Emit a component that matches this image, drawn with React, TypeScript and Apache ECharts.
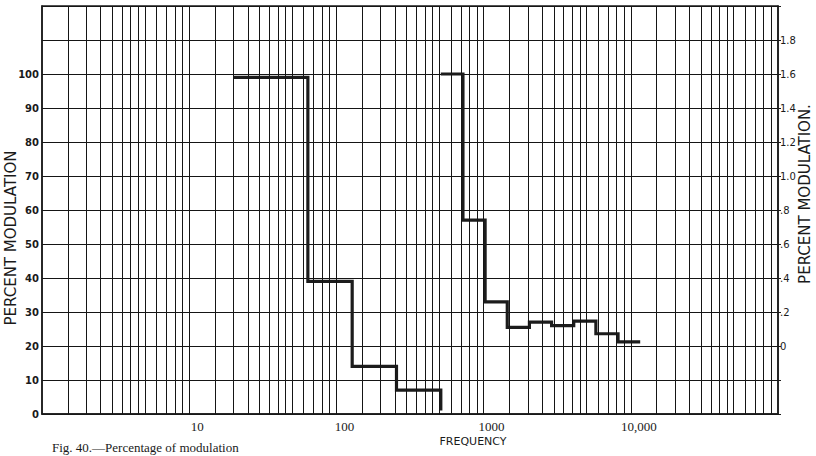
import React, { useEffect, useRef } from "react";
import * as echarts from "echarts";

// Low-frequency curve (left scale, percent modulation)
const FREQ_A = [20, 64, 128, 256, 512];
const MOD_A = [99, 39, 14, 7, 1];

// High-frequency curve (right scale plotted on the same grid)
const FREQ_B = [512, 724, 1024, 1448, 2048, 2896, 4096, 5793, 8192, 11585];
const MOD_B = [100, 57, 33, 25.5, 27, 26, 27.3, 23.6, 21.2, 21.2];

const X_LABELS = [10, 100, 1000, 10000];
const X_LABEL_TEXT = ["10", "100", "1000", "10,000"];
const DECADES = [1, 10, 100, 1000, 10000, 100000];
const GRID_MULT = [1, 1.5, 2, 2.5, 3, 3.5, 4, 4.5, 5, 6, 7, 8, 9];

export default function App() {
  const ref = useRef<HTMLDivElement>(null);
  useEffect(() => {
    if (!ref.current) return;
    const chart = echarts.init(ref.current, null, { renderer: "svg" });
    const gridVals: number[] = [];
    DECADES.forEach((d) => {
      GRID_MULT.forEach((m) => {
        const v = d * m;
        if (v > 1 && v < 100000) gridVals.push(v);
      });
    });
    const ink = "#1a1a1a";
    chart.setOption({
      animation: false,
      backgroundColor: "#fff",
      grid: {
        left: 42,
        right: 38,
        top: 6,
        bottom: 42,
        show: true,
        borderColor: ink,
        borderWidth: 1.5,
      },
      xAxis: {
        type: "log",
        logBase: 10,
        min: 1,
        max: 100000,
        axisLine: { show: true, lineStyle: { color: ink, width: 1.5 } },
        axisTick: { show: false },
        splitLine: { show: false },
        axisLabel: {
          margin: 6,
          padding: [0, 0, 0, 16],
          fontFamily: "Liberation Serif",
          fontSize: 13,
          color: ink,
          formatter: (v: number) => {
            const i = X_LABELS.findIndex((x) => Math.abs(x - v) / x < 1e-6);
            return i >= 0 ? X_LABEL_TEXT[i] : "";
          },
        },
      },
      yAxis: [
        {
          type: "value",
          min: 0,
          max: 120,
          interval: 10,
          axisLine: { show: true, lineStyle: { color: ink, width: 1.5 } },
          axisTick: { show: false },
          splitLine: { show: true, lineStyle: { color: "#151515", width: 1 } },
          axisLabel: {
            margin: 3,
            fontFamily: "DejaVu Sans",
            fontWeight: "bold",
            fontSize: 10,
            color: ink,
            formatter: (v: number) => (v <= 100 ? String(v) : ""),
          },
        },
        {
          type: "value",
          position: "right",
          min: -0.4,
          max: 2.0,
          interval: 0.2,
          axisLine: { show: true, lineStyle: { color: ink, width: 1.5 } },
          axisTick: { show: true, length: 3, lineStyle: { color: ink } },
          splitLine: { show: false },
          axisLabel: {
            margin: 2,
            fontFamily: "DejaVu Sans",
            fontSize: 10,
            color: ink,
            formatter: (v: number) => {
              const r = Math.round(v * 10) / 10;
              if (r < 0 || r > 1.8) return "";
              if (r === 0) return "0";
              if (r < 1) return "." + Math.round(r * 10);
              return r.toFixed(1);
            },
          },
        },
      ],
      series: [
        {
          type: "line",
          data: [],
          silent: true,
          markLine: {
            silent: true,
            symbol: ["none", "none"],
            label: { show: false },
            lineStyle: { color: "#151515", width: 1, type: "solid" },
            data: gridVals.map((v) => ({ xAxis: v })),
          },
        },
        {
          type: "line",
          step: "end",
          showSymbol: false,
          lineStyle: { color: "#1c1c1c", width: 3.2, cap: "butt", join: "miter" },
          data: FREQ_A.map((f, i) => [f, MOD_A[i]]),
        },
        {
          type: "line",
          step: "end",
          showSymbol: false,
          lineStyle: { color: "#1c1c1c", width: 3.2, cap: "butt", join: "miter" },
          data: FREQ_B.map((f, i) => [f, MOD_B[i]]),
        },
      ],
      graphic: [
        {
          type: "text",
          x: 11,
          y: 238,
          rotation: Math.PI / 2,
          style: {
            text: "PERCENT MODULATION",
            fontFamily: "DejaVu Sans",
            fontSize: 15,
            fill: ink,
            align: "center",
            verticalAlign: "middle",
          },
        },
        {
          type: "text",
          x: 805,
          y: 194,
          rotation: Math.PI / 2,
          style: {
            text: "PERCENT MODULATION.",
            fontFamily: "DejaVu Sans",
            fontSize: 15,
            fill: ink,
            align: "center",
            verticalAlign: "middle",
          },
        },
        {
          type: "text",
          x: 473,
          y: 441,
          style: {
            text: "FREQUENCY",
            fontFamily: "DejaVu Sans",
            fontSize: 11,
            fill: ink,
            align: "center",
            verticalAlign: "middle",
          },
        },
        {
          type: "text",
          x: 52,
          y: 441,
          style: {
            text: "Fig. 40.—Percentage of modulation",
            fontFamily: "Liberation Serif",
            fontSize: 13,
            fill: ink,
            align: "left",
            verticalAlign: "top",
          },
        },
      ],
    });
    return () => chart.dispose();
  }, []);
  return <div ref={ref} style={{ width: 816, height: 456, position: "fixed", left: 0, top: 0 }} />;
}
